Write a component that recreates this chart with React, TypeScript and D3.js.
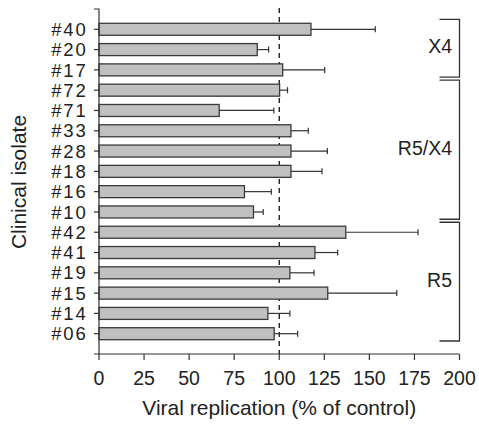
import React from "react";
import * as d3 from "d3";

const isolates = ["#40", "#20", "#17", "#72", "#71", "#33", "#28", "#18", "#16", "#10", "#42", "#41", "#19", "#15", "#14", "#06"];
const means = [117.6, 87.8, 101.9, 100.2, 66.7, 106.5, 106.5, 106.5, 80.7, 85.7, 136.9, 119.8, 105.9, 126.9, 93.7, 97.2];
const errors = [35.7, 6.3, 23.3, 4.4, 30.3, 9.6, 20.2, 17.2, 14.9, 5.4, 40.1, 12.6, 13.4, 38.3, 12.2, 13.0];
const groupNames = ["X4", "R5/X4", "R5"];
const groupFirst = ["#40", "#72", "#42"];
const groupLast = ["#17", "#10", "#06"];
const xTicks = [0, 25, 50, 75, 100, 125, 150, 175, 200];
const controlValue = 100;

const W = 479;
const H = 424;
const FONT = "'Liberation Sans', Arial, Helvetica, sans-serif";
const INK = "#333";

export default function App() {
  const x = d3.scaleLinear().domain([0, 200]).range([99, 459.5]);
  const y = d3.scalePoint<string>().domain(isolates).range([9, 354]).padding(1);
  const [y0, y1] = y.range();
  const barH = 12;
  const axisY = 354;
  const bx = x(200);

  return (
    <svg width={W} height={H} style={{ position: "absolute", left: 0, top: 0, display: "block", background: "#fff" }} fontFamily={FONT}>
      {/* control dashed line */}
      <line x1={x(controlValue)} x2={x(controlValue)} y1={8} y2={axisY} stroke="#111" strokeWidth={1.3} strokeDasharray="5,4" />
      {/* bars + error bars */}
      {isolates.map((id, i) => {
        const cy = y(id)!;
        const xe = x(means[i]);
        const xr = x(means[i] + errors[i]);
        return (
          <g key={id}>
            <line x1={xe} x2={xr} y1={cy} y2={cy} stroke={INK} strokeWidth={1.2} />
            <line x1={xr} x2={xr} y1={cy - 3} y2={cy + 3} stroke={INK} strokeWidth={1.2} />
            <rect x={x(0)} y={cy - barH / 2} width={xe - x(0)} height={barH} fill="#c0c0c0" stroke="#3a3a3a" strokeWidth={1.3} />
          </g>
        );
      })}
      {/* y axis */}
      <path d={`M${x(0) - 5},${y0}H${x(0)}V${y1}H${x(0) - 5}`} fill="none" stroke={INK} strokeWidth={1.2} />
      {isolates.map((id) => (
        <g key={"t" + id}>
          <line x1={x(0) - 5} x2={x(0)} y1={y(id)!} y2={y(id)!} stroke={INK} strokeWidth={1.2} />
          <text x={87.5} y={y(id)!} dy="0.36em" textAnchor="end" fontSize={18.5} letterSpacing={1.8} fill="#222">{id}</text>
        </g>
      ))}
      {/* x axis */}
      <line x1={x(0)} x2={x(200)} y1={axisY} y2={axisY} stroke={INK} strokeWidth={1.2} />
      {xTicks.map((t) => (
        <g key={"x" + t}>
          <line x1={x(t)} x2={x(t)} y1={axisY} y2={axisY + 6} stroke={INK} strokeWidth={1.2} />
          <text x={x(t)} y={385} textAnchor="middle" fontSize={19.5} fill="#222">{t}</text>
        </g>
      ))}
      <text x={x(controlValue)} y={415} textAnchor="middle" fontSize={21} fill="#222">Viral replication (% of control)</text>
      <text transform={`translate(26,182) rotate(-90)`} textAnchor="middle" fontSize={21} fill="#222">Clinical isolate</text>
      {/* group brackets */}
      {groupNames.map((g, i) => {
        const top = y(groupFirst[i])! - 10;
        const bot = y(groupLast[i])! + 7.3;
        const mid = (top + bot) / 2;
        return (
          <g key={g}>
            <path d={`M${bx - 20},${top}H${bx}V${bot}H${bx - 20}`} fill="none" stroke={INK} strokeWidth={1.3} />
            <text x={452} y={mid - 2} dy="0.36em" textAnchor="end" fontSize={19.5} fill="#222">{g}</text>
          </g>
        );
      })}
    </svg>
  );
}
